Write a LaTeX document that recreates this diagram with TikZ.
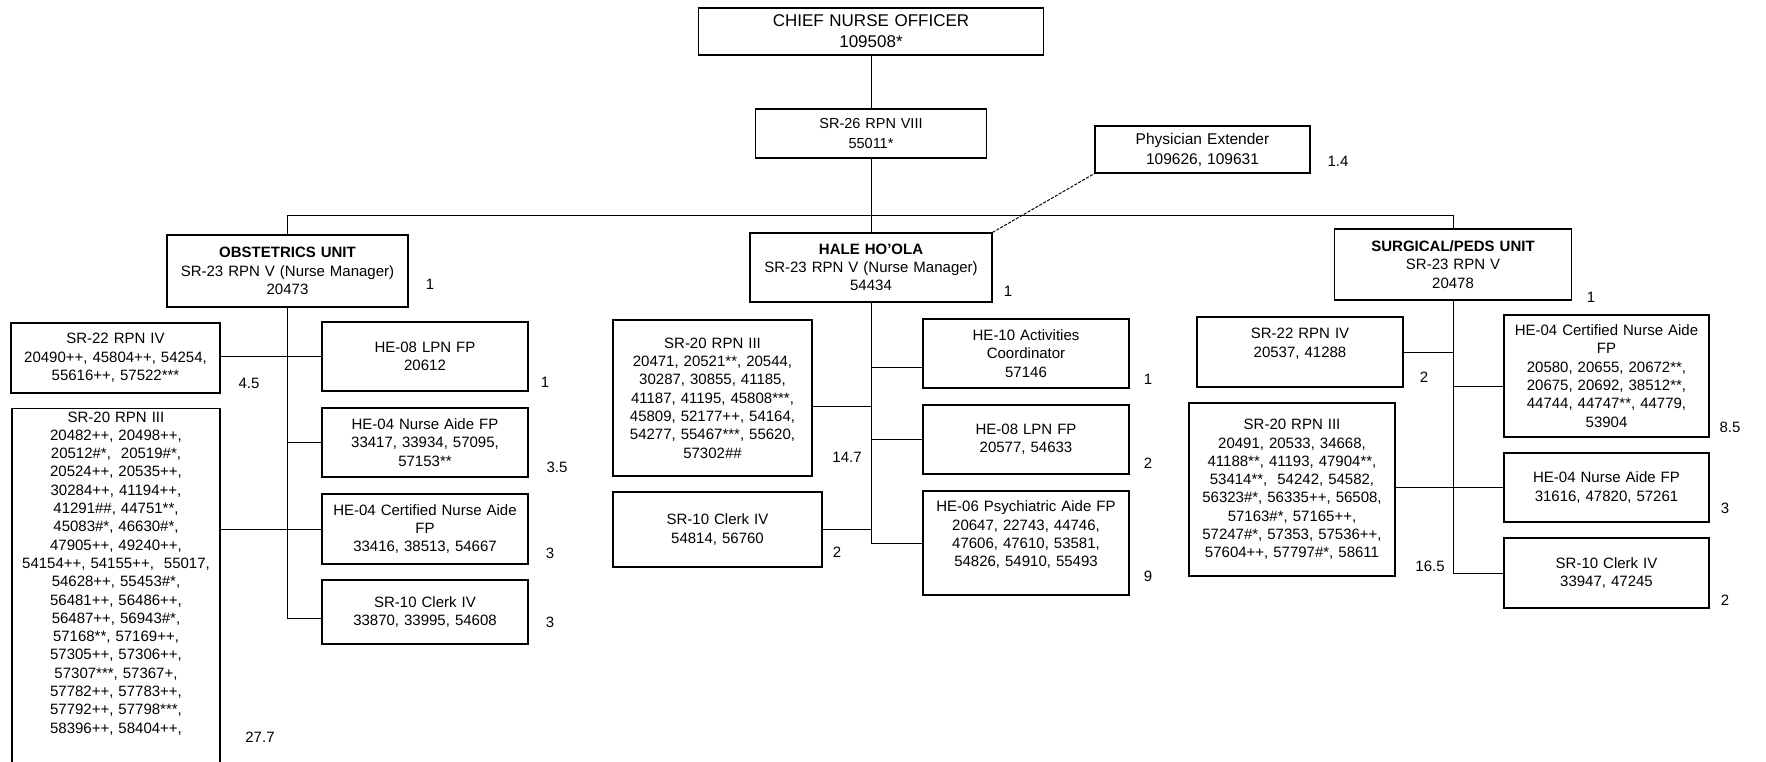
\documentclass[tikz,border=0pt]{standalone}
\usepackage{fontspec}
\setmainfont{Liberation Sans}
\usetikzlibrary{calc}
\newcommand{\bodysize}{\fontsize{15}{18.3}\selectfont}
\newcommand{\topsize}{\fontsize{17}{21}\selectfont}

\begin{document}
\begin{tikzpicture}[x=1pt,y=1pt,yscale=-1,xscale=1,
    unit/.style={draw, line width=1.2pt, align=center, inner sep=3pt, font=\bodysize},
    fte/.style={font=\bodysize, inner sep=0pt},
    link/.style={line width=1pt}]
    \clip (0,0) rectangle (1766,762);
    \fill[white] (0,0) rectangle (1766,762);

    % top of the chart
    \node[unit, text width=339pt, minimum height=47pt, font=\topsize] (chief) at (871,31.5) {CHIEF NURSE OFFICER\\109508*};
    \node[unit, text width=225pt, minimum height=49pt, font=\fontsize{14.5}{20}\selectfont] (sr26) at (871,133.5) {SR-26 RPN VIII\\55011*};
    \node[unit, text width=209pt, minimum height=47pt, font=\fontsize{15.5}{20}\selectfont] (phys) at (1202.5,149.5) {Physician Extender\\109626, 109631};
    \node[fte] (nphys) at (1338,161) {1.4};
    \coordinate (bus) at (871,215);

    % units
    \node[unit, text width=235pt, minimum height=72pt] (obst) at (287.5,271) {\textbf{OBSTETRICS UNIT}\\SR-23 RPN V (Nurse Manager)\\20473};
    \node[unit, text width=236pt, minimum height=69pt] (hale) at (871,267.5) {\textbf{HALE HO'OLA}\\SR-23 RPN V (Nurse Manager)\\54434};
    \node[unit, text width=231pt, minimum height=71pt] (surg) at (1453,264.5) {\textbf{SURGICAL/PEDS UNIT}\\SR-23 RPN V\\20478};
    \node[fte] (nobst) at (430,284) {1};
    \node[fte] (nhale) at (1008,291) {1};
    \node[fte] (nsurg) at (1591,297) {1};

    % obstetrics unit
    \node[unit, text width=203pt, minimum height=70pt] (sr22L) at (115.5,358) {SR-22 RPN IV\\20490++, 45804++, 54254,\\55616++, 57522***};
    \node[unit, text width=200pt, minimum height=69pt] (he08L) at (425,356.5) {HE-08 LPN FP\\20612};
    \node[unit, text width=200pt, minimum height=69pt] (he04naL) at (425,442.5) {HE-04 Nurse Aide FP\\33417, 33934, 57095,\\57153**};
    \node[unit, text width=200pt, minimum height=70pt] (he04cnaL) at (425,529) {HE-04 Certified Nurse Aide\\FP\\33416, 38513, 54667};
    \node[unit, text width=200pt, minimum height=64pt] (clerkL) at (425,612) {SR-10 Clerk IV\\33870, 33995, 54608};
    \node[unit, text width=202pt, anchor=north] (sr20L) at (116,408) {SR-20 RPN III\\20482++, 20498++,\\20512\#*,~ 20519\#*,\\20524++, 20535++,\\30284++, 41194++,\\41291\#\#, 44751**,\\45083\#*, 46630\#*,\\47905++, 49240++,\\54154++, 54155++,~ 55017,\\54628++, 55453\#*,\\56481++, 56486++,\\56487++, 56943\#*,\\57168**, 57169++,\\57305++, 57306++,\\57307***, 57367+,\\57782++, 57783++,\\57792++, 57798***,\\58396++, 58404++,\\~\\~\\~};
    \node[fte] (nsr22L) at (249,383) {4.5};
    \node[fte] (nhe08L) at (545,382) {1};
    \node[fte] (nhe04naL) at (557,467) {3.5};
    \node[fte] (nhe04cnaL) at (550,553) {3};
    \node[fte] (nclerkL) at (550,622) {3};
    \node[fte] (nsr20L) at (260,737) {27.7};

    % hale ho'ola
    \node[unit, text width=193pt, minimum height=156pt] (sr20H) at (712.5,398) {SR-20 RPN III\\20471, 20521**, 20544,\\30287, 30855, 41185,\\41187, 41195, 45808***,\\45809, 52177++, 54164,\\54277, 55467***, 55620,\\57302\#\#};
    \node[unit, text width=203pt, minimum height=75pt] (clerkH) at (717.5,529.5) {SR-10 Clerk IV\\54814, 56760};
    \node[unit, text width=200pt, minimum height=69pt] (he10) at (1026,353.5) {HE-10 Activities\\Coordinator\\57146};
    \node[unit, text width=200pt, minimum height=69pt] (he08H) at (1026,439.5) {HE-08 LPN FP\\20577, 54633};
    \node[unit, text width=200pt, minimum height=104pt] (he06) at (1026,543) {HE-06 Psychiatric Aide FP\\20647, 22743, 44746,\\47606, 47610, 53581,\\54826, 54910, 55493\\~};
    \node[fte] (nsr20H) at (847,457) {14.7};
    \node[fte] (nclerkH) at (837,552) {2};
    \node[fte] (nhe10) at (1148,379) {1};
    \node[fte] (nhe08H) at (1148,463) {2};
    \node[fte] (nhe06) at (1148,576) {9};

    % surgical/peds unit
    \node[unit, text width=200pt, minimum height=70pt] (sr22R) at (1300,352) {SR-22 RPN IV\\20537, 41288\\~};
    \node[unit, text width=200pt, minimum height=173pt] (sr20R) at (1292,489.5) {SR-20 RPN III\\20491, 20533, 34668,\\41188**, 41193, 47904**,\\53414**,~ 54242, 54582,\\56323\#*, 56335++, 56508,\\57163\#*, 57165++,\\57247\#*, 57353, 57536++,\\57604++, 57797\#*, 58611};
    \node[unit, text width=199pt, minimum height=122pt] (he04cnaR) at (1606.5,376) {HE-04 Certified Nurse Aide\\FP\\20580, 20655, 20672**,\\20675, 20692, 38512**,\\44744, 44747**, 44779,\\53904};
    \node[unit, text width=199pt, minimum height=69pt] (he04naR) at (1606.5,487.5) {HE-04 Nurse Aide FP\\31616, 47820, 57261};
    \node[unit, text width=199pt, minimum height=70pt] (clerkR) at (1606.5,573) {SR-10 Clerk IV\\33947, 47245};
    \node[fte] (nsr22R) at (1424,377) {2};
    \node[fte] (nsr20R) at (1430,566) {16.5};
    \node[fte] (nhe04cnaR) at (1730,427) {8.5};
    \node[fte] (nhe04naR) at (1725,508) {3};
    \node[fte] (nclerkR) at (1725,600) {2};

    % connectors
    \draw[link] (chief) -- (sr26);
    \draw[link] (sr26) -- (hale);
    \draw[link] (obst.north) -- (obst.north |- bus) -- (surg.north |- bus) -- (surg.north);
    \draw[link, dash pattern=on 3pt off 1.5pt] (hale.north east) -- (phys.south west);

    \draw[link] (obst.south) -- ($(clerkL.west -| obst.south)+(0,6)$) -- ($(clerkL.west)+(0,6)$);
    \draw[link] (he08L.west -| sr22L.east) -- (he08L.west);
    \draw[link] (he04naL.west) -- (he04naL.west -| obst.south);
    \draw[link] (sr20L.east |- he04cnaL.west) -- (he04cnaL.west);

    \draw[link] (hale.south) -- (hale.south |- he06.west) -- (he06.west);
    \draw[link] ($(he10.west)+(0,13.5)$) -- ($(he10.west -| hale.south)+(0,13.5)$);
    \draw[link] (he08H.west) -- (he08H.west -| hale.south);
    \draw[link] ($(sr20H.east)+(0,8)$) -- ($(sr20H.east -| hale.south)+(0,8)$);
    \draw[link] (clerkH.east) -- (clerkH.east -| hale.south);

    \draw[link] (surg.south) -- (surg.south |- clerkR.west) -- (clerkR.west);
    \draw[link] (sr22R.east) -- (sr22R.east -| surg.south);
    \draw[link] ($(he04cnaR.west)+(0,10)$) -- ($(he04cnaR.west -| surg.south)+(0,10)$);
    \draw[link] (sr20R.east |- he04naR.west) -- (he04naR.west);
\end{tikzpicture}
\end{document}
